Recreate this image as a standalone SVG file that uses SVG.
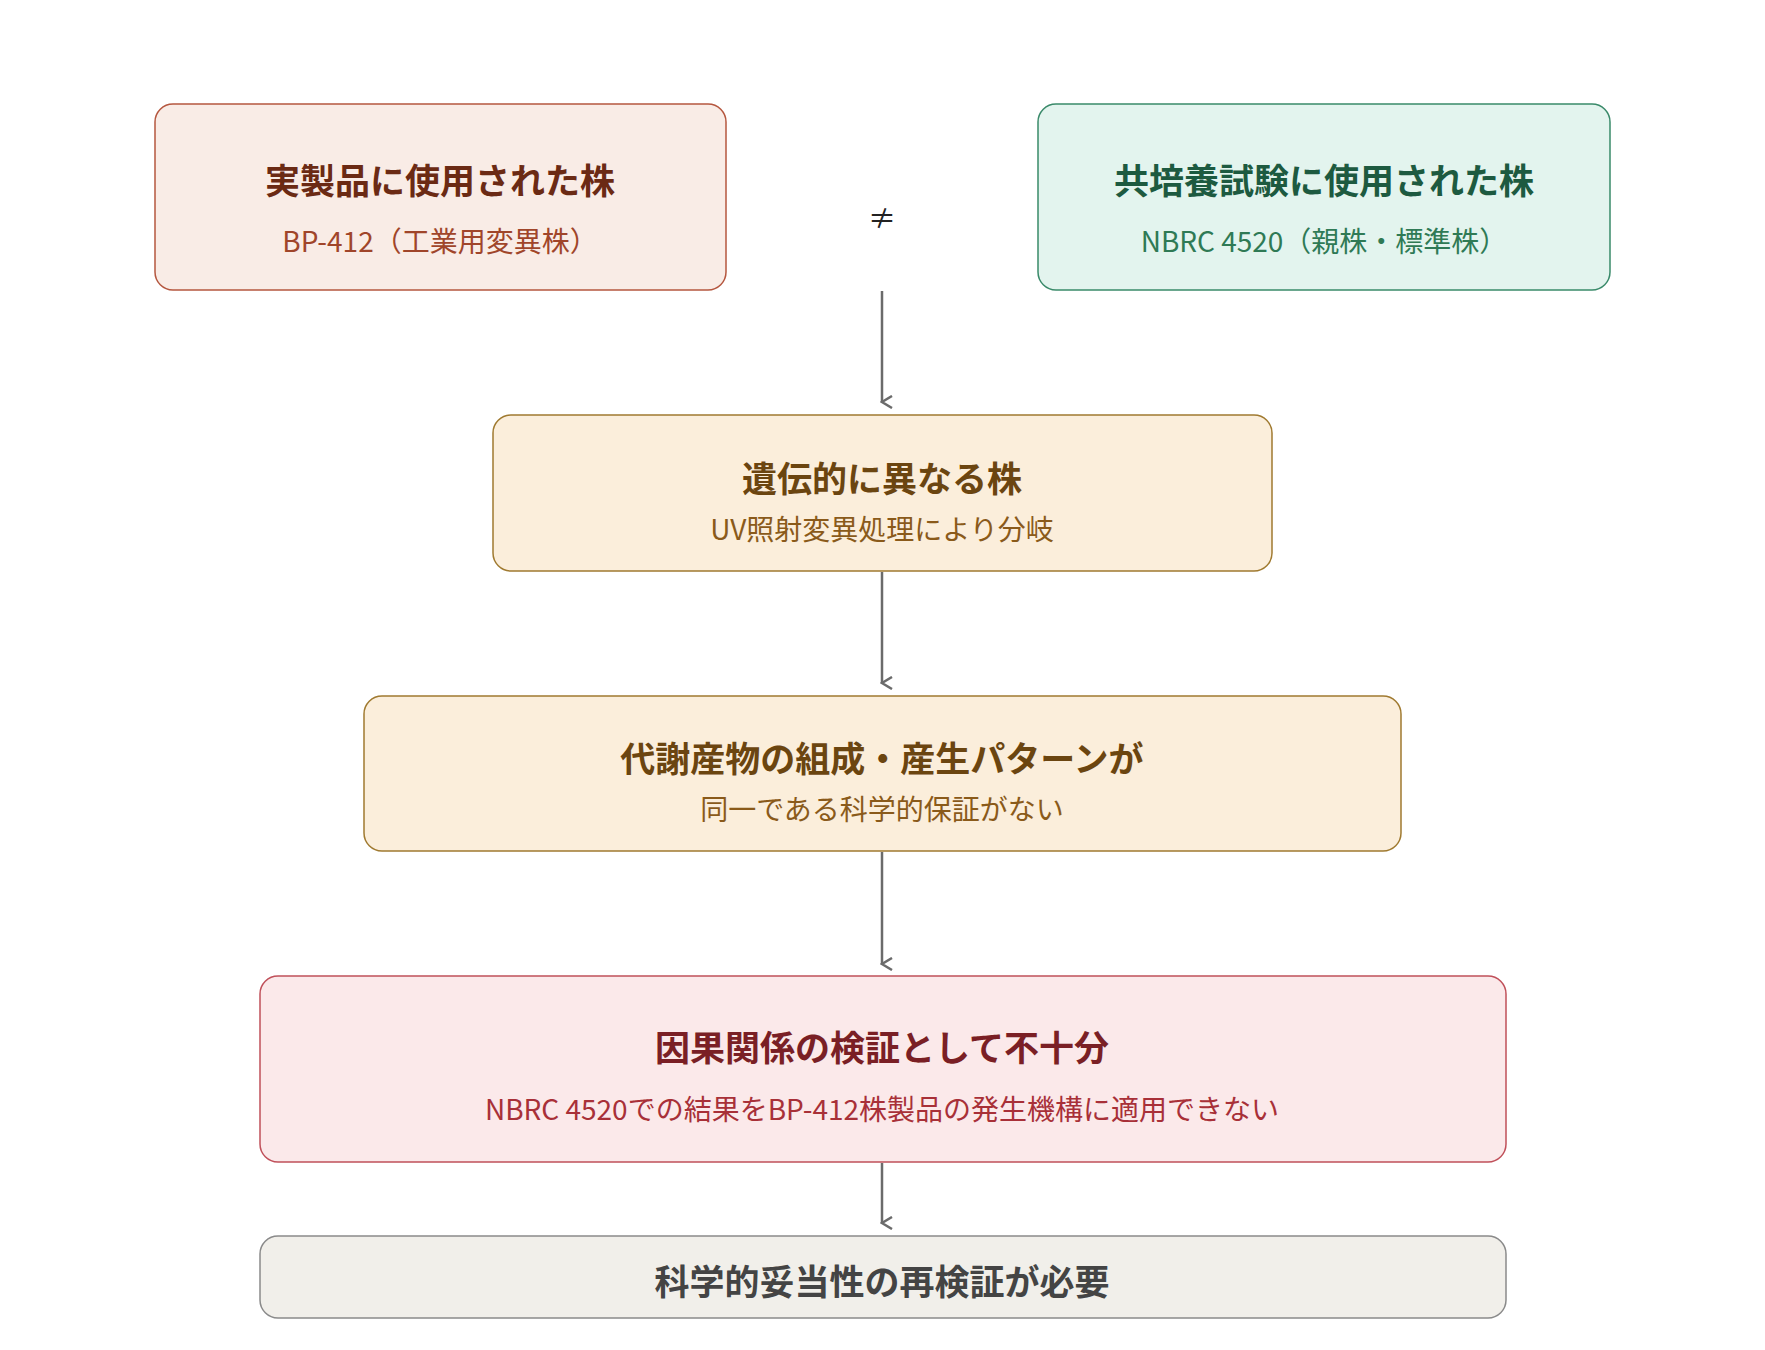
<svg xmlns="http://www.w3.org/2000/svg" width="1765" height="1350" viewBox="0 0 1765 1350">
<style>
text{font-family:"Noto Sans CJK JP","Noto Sans",sans-serif;text-anchor:middle;dominant-baseline:central}
.t{font-size:35px;font-weight:700}
.s{font-size:28px}
.c{stroke:#6b6b6b;stroke-width:2.5;fill:none;marker-end:url(#a)}
</style>
<defs><marker id="a" markerWidth="14" markerHeight="14" refX="7" refY="12" orient="auto" markerUnits="userSpaceOnUse"><path d="M1,2 L7,12 L13,2" fill="none" stroke="#6b6b6b" stroke-width="2.5"/></marker></defs>
<rect width="1765" height="1350" fill="#fff"/>
<g id="n1"><rect x="155" y="104" width="571" height="186" rx="18" fill="#f9ece6" stroke="#b5573f" stroke-width="1.5"/>
<text x="440" y="178" class="t" fill="#6b2a14">実製品に使用された株</text><text x="440" y="240" class="s" fill="#a0452a">BP-412（工業用変異株）</text></g>
<g id="n2"><rect x="1038" y="104" width="572" height="186" rx="18" fill="#e3f4ee" stroke="#3a8a6a" stroke-width="1.5"/>
<text x="1324" y="178" class="t" fill="#1d5a40">共培養試験に使用された株</text><text x="1324" y="240" class="s" fill="#2f7a55">NBRC 4520（親株・標準株）</text></g>
<text x="882" y="217" font-size="28" fill="#222">≠</text>
<g id="n3"><rect x="493" y="415" width="779" height="156" rx="18" fill="#fbeedb" stroke="#a07a30" stroke-width="1.5"/>
<text x="882" y="476" class="t" fill="#6b4510">遺伝的に異なる株</text><text x="882" y="528" class="s" fill="#8a5a1a">UV照射変異処理により分岐</text></g>
<g id="n4"><rect x="364" y="696" width="1037" height="155" rx="18" fill="#fbeedb" stroke="#a07a30" stroke-width="1.5"/>
<text x="882" y="756" class="t" fill="#6b4510">代謝産物の組成・産生パターンが</text><text x="882" y="808" class="s" fill="#8a5a1a">同一である科学的保証がない</text></g>
<g id="n5"><rect x="260" y="976" width="1246" height="186" rx="18" fill="#fbe9ea" stroke="#c0505a" stroke-width="1.5"/>
<text x="882" y="1045" class="t" fill="#7a1f25">因果関係の検証として不十分</text><text x="882" y="1108" class="s" fill="#a83038">NBRC 4520での結果をBP-412株製品の発生機構に適用できない</text></g>
<g id="n6"><rect x="260" y="1236" width="1246" height="82" rx="18" fill="#f1efea" stroke="#8a8a8a" stroke-width="1.5"/>
<text x="882" y="1279" class="t" fill="#444">科学的妥当性の再検証が必要</text></g>
<g id="edges">
<path class="c" d="M882,291 V402"/>
<path class="c" d="M882,572 V683"/>
<path class="c" d="M882,852 V964"/>
<path class="c" d="M882,1163 V1223"/>
</g>
</svg>
